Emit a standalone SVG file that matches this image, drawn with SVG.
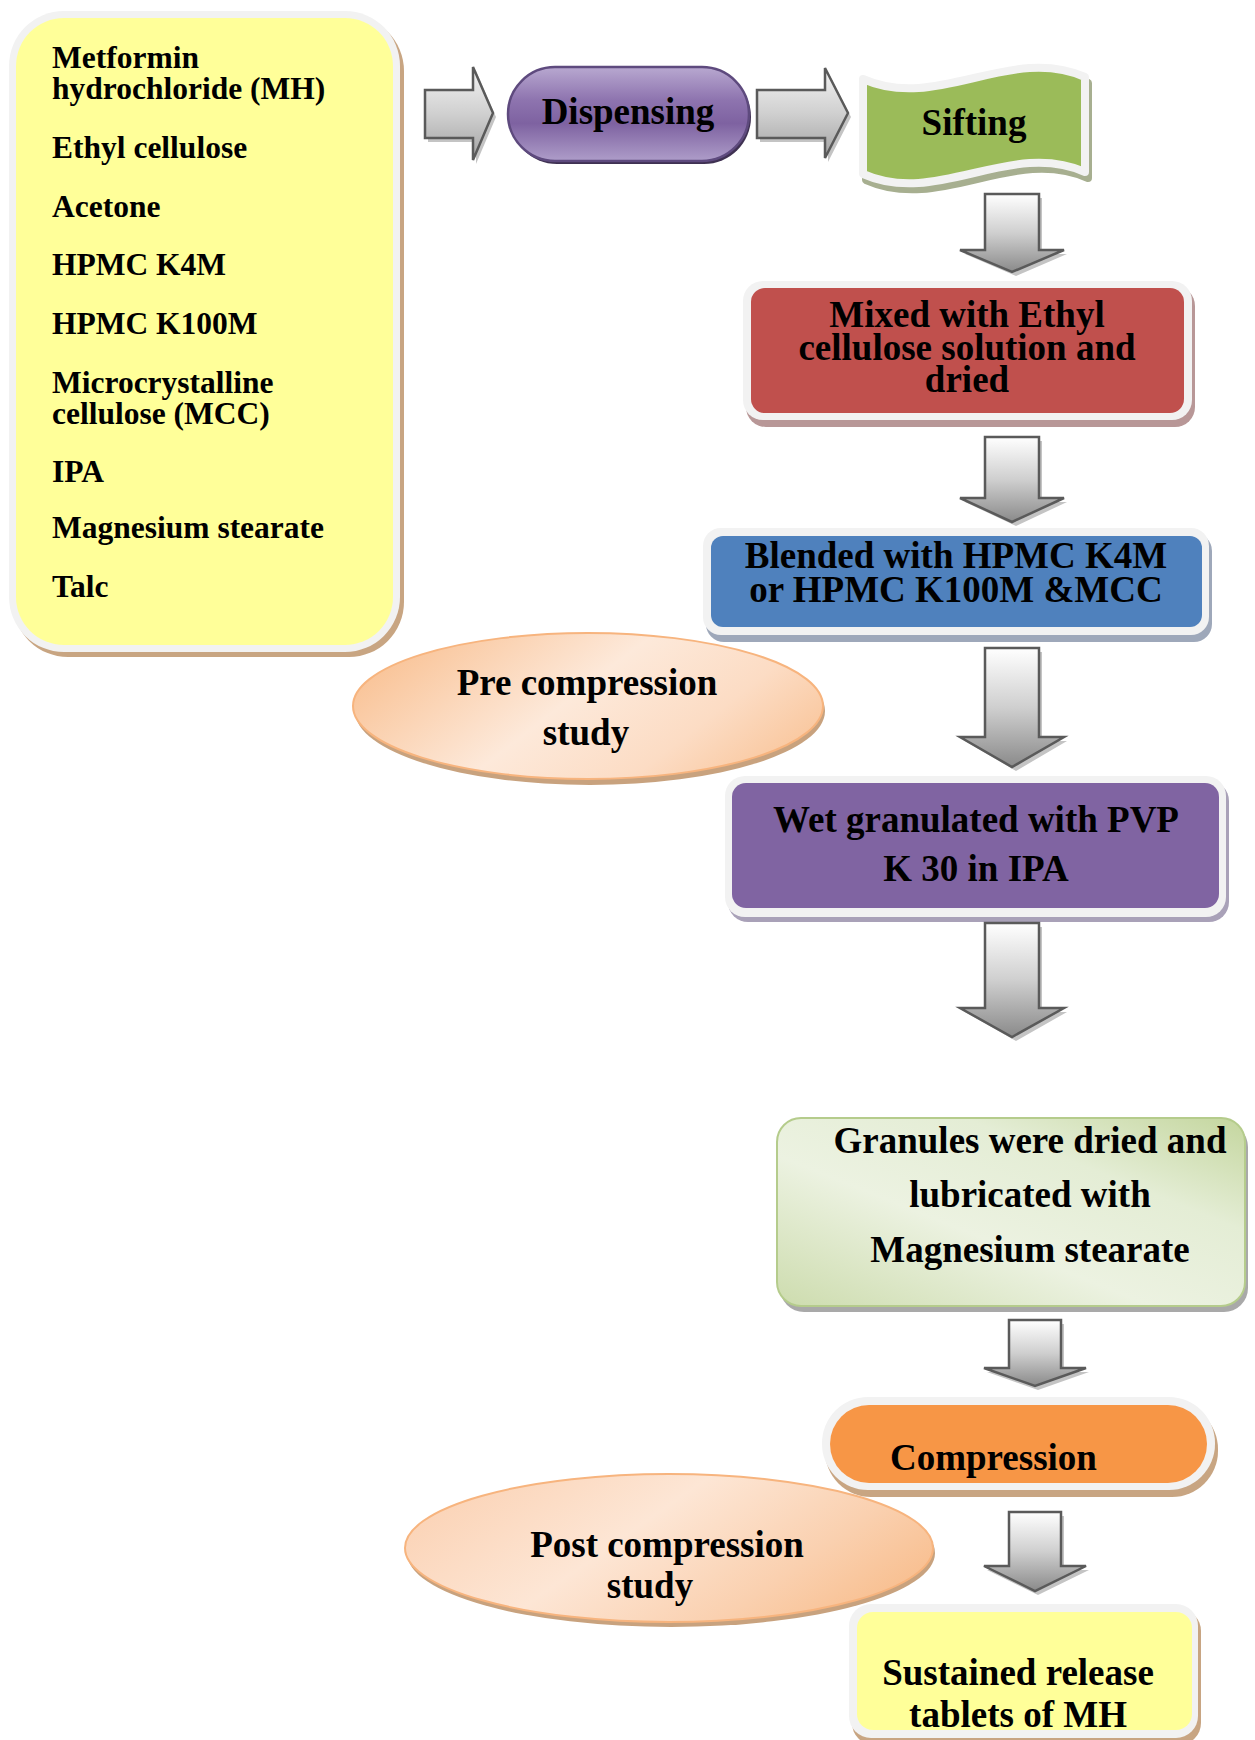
<svg xmlns="http://www.w3.org/2000/svg" width="1255" height="1740" viewBox="0 0 1255 1740">
<defs>
<linearGradient id="gArrowV" x1="0" y1="0" x2="0" y2="1">
<stop offset="0" stop-color="#FFFFFF"/><stop offset="0.5" stop-color="#CFCFCF"/><stop offset="1" stop-color="#8A8A8A"/>
</linearGradient>
<linearGradient id="gArrowH" x1="0" y1="0" x2="0" y2="1">
<stop offset="0" stop-color="#F4F4F4"/><stop offset="0.5" stop-color="#D0D0D0"/><stop offset="1" stop-color="#A2A2A2"/>
</linearGradient>
<linearGradient id="gPill" x1="0" y1="0" x2="0" y2="1">
<stop offset="0" stop-color="#B8A8D0"/><stop offset="0.35" stop-color="#8E74AF"/><stop offset="0.6" stop-color="#7E62A1"/><stop offset="1" stop-color="#AE9DC9"/>
</linearGradient>
<linearGradient id="gPeach" x1="0" y1="0.3" x2="1" y2="0.7">
<stop offset="0" stop-color="#F9C295"/><stop offset="0.45" stop-color="#FDE9DA"/><stop offset="0.75" stop-color="#FCDCC4"/><stop offset="1" stop-color="#F9C69C"/>
</linearGradient>
<linearGradient id="gPeach2" x1="0" y1="0.3" x2="1" y2="0.7">
<stop offset="0" stop-color="#FBD3B6"/><stop offset="0.4" stop-color="#FDE6D5"/><stop offset="0.75" stop-color="#FAD0AF"/><stop offset="1" stop-color="#F8BE8E"/>
</linearGradient>
<linearGradient id="gGreen" x1="0" y1="1" x2="1" y2="0">
<stop offset="0" stop-color="#CDDCAE"/><stop offset="0.4" stop-color="#ECF2E1"/><stop offset="0.7" stop-color="#E4EDD5"/><stop offset="1" stop-color="#C4D69E"/>
</linearGradient>
<style>
.t{font-family:"Liberation Serif","Times New Roman",serif;font-weight:bold;fill:#000;}
.f37{font-size:37px;}
.f31{font-size:31.5px;}
.mid{text-anchor:middle;}
.rim{fill:#F2F2F2;}
.shBrown{fill:#C8A582;}
.arrow{fill:url(#gArrowV);stroke:#5A5A5A;stroke-width:2.5;stroke-linejoin:miter;}
.arrowH{fill:url(#gArrowH);stroke:#5A5A5A;stroke-width:2.5;}
.ash{fill:#C4C4C4;}
</style>
</defs>
<rect width="1255" height="1740" fill="#FFFFFF"/>

<g id="materials">
<rect class="shBrown" x="13" y="16" width="391" height="641" rx="55"/>
<rect class="rim" x="9" y="11" width="391" height="641" rx="55"/>
<rect x="16" y="18" width="377" height="627" rx="48" fill="#FFFF99"/>
<text class="t f31" x="52" y="67.5">Metformin</text>
<text class="t f31" x="52" y="99">hydrochloride (MH)</text>
<text class="t f31" x="52" y="158">Ethyl cellulose</text>
<text class="t f31" x="52" y="217">Acetone</text>
<text class="t f31" x="52" y="275">HPMC K4M</text>
<text class="t f31" x="52" y="334">HPMC K100M</text>
<text class="t f31" x="52" y="393">Microcrystalline</text>
<text class="t f31" x="52" y="424">cellulose (MCC)</text>
<text class="t f31" x="52" y="482">IPA</text>
<text class="t f31" x="52" y="537.5">Magnesium stearate</text>
<text class="t f31" x="52" y="596.5">Talc</text>
</g>

<g id="dispensing">
<rect x="510" y="70" width="241" height="94" rx="47" fill="#3F3152"/>
<rect x="508" y="67" width="241" height="94" rx="47" fill="url(#gPill)" stroke="#5E4A7E" stroke-width="2.5"/>
<text class="t f37 mid" x="628" y="124">Dispensing</text>
</g>

<g id="sifting">
<path d="M863,79 C937,112 1011,44 1085,77 L1085,172 C1011,139 937,207 863,174 Z" transform="translate(3,6)" fill="#A7AF90" stroke="#A7AF90" stroke-width="8" stroke-linejoin="round"/>
<path d="M863,79 C937,112 1011,44 1085,77 L1085,172 C1011,139 937,207 863,174 Z" fill="#9BBB59" stroke="#F2F2F2" stroke-width="8" stroke-linejoin="round"/>
<text class="t f37 mid" x="974" y="135">Sifting</text>
</g>

<g id="mixed">
<rect x="746" y="286" width="449" height="141" rx="20" fill="#B89797"/>
<rect class="rim" x="743" y="281" width="449" height="139" rx="20"/>
<rect x="751" y="288" width="433" height="125" rx="14" fill="#C0504D"/>
<text class="t f37 mid" x="967" y="327">Mixed with Ethyl</text>
<text class="t f37 mid" x="967" y="360">cellulose solution and</text>
<text class="t f37 mid" x="967" y="392">dried</text>
</g>

<g id="blended">
<rect x="706" y="533" width="506" height="109" rx="18" fill="#9EA8BA"/>
<rect class="rim" x="703" y="528" width="506" height="107" rx="18"/>
<rect x="711" y="536" width="491" height="91" rx="12" fill="#4F81BD"/>
<text class="t f37 mid" x="956" y="568">Blended with HPMC K4M</text>
<text class="t f37 mid" x="956" y="602">or HPMC K100M &amp;MCC</text>
</g>

<g id="precompression">
<ellipse cx="590" cy="711" rx="235" ry="74" fill="#C8A27E"/>
<ellipse cx="588" cy="706" rx="235" ry="73" fill="url(#gPeach)" stroke="#F7B47E" stroke-width="2"/>
<text class="t f37 mid" x="587" y="695">Pre compression</text>
<text class="t f37 mid" x="586" y="745">study</text>
</g>

<g id="wetgranulation">
<rect x="728" y="781" width="501" height="141" rx="20" fill="#A9A1B8"/>
<rect class="rim" x="725" y="776" width="501" height="141" rx="20"/>
<rect x="732" y="783" width="487" height="125" rx="14" fill="#8064A2"/>
<text class="t f37 mid" x="976" y="832">Wet granulated with PVP</text>
<text class="t f37 mid" x="976" y="881">K 30 in IPA</text>
</g>

<g id="granules">
<rect x="780" y="1123" width="468" height="189" rx="24" fill="#A9A9A9"/>
<rect x="777" y="1118" width="468" height="188" rx="24" fill="url(#gGreen)" stroke="#B5CC8C" stroke-width="2"/>
<text class="t f37 mid" x="1030" y="1153">Granules were dried and</text>
<text class="t f37 mid" x="1030" y="1207">lubricated with</text>
<text class="t f37 mid" x="1030" y="1262">Magnesium stearate</text>
</g>

<g id="compression">
<rect class="shBrown" x="825" y="1403" width="393" height="94" rx="46"/>
<rect class="rim" x="822" y="1397" width="393" height="93" rx="46"/>
<rect x="830" y="1405" width="377" height="78" rx="39" fill="#F79646"/>
<text class="t f37" x="890" y="1470">Compression</text>
</g>

<g id="postcompression">
<ellipse cx="671" cy="1553" rx="264" ry="74" fill="#C8A27E"/>
<ellipse cx="669" cy="1548" rx="264" ry="74" fill="url(#gPeach2)" stroke="#F7B47E" stroke-width="2"/>
<text class="t f37 mid" x="667" y="1557">Post compression</text>
<text class="t f37 mid" x="650" y="1598">study</text>
</g>

<g id="sustained">
<rect class="shBrown" x="852" y="1609" width="349" height="136" rx="22"/>
<rect class="rim" x="849" y="1604" width="349" height="134" rx="22"/>
<rect x="857" y="1612" width="335" height="118" rx="16" fill="#FFFF99"/>
<text class="t f37 mid" x="1018" y="1685">Sustained release</text>
<text class="t f37 mid" x="1018" y="1727">tablets of MH</text>
</g>

<g id="connectors">
<path class="ash" d="M428,94 H476 V71 L496,117 L476,164 V142 H428 Z"/>
<path class="arrowH" d="M425,90 H473 V67 L493,113 L473,160 V138 H425 Z"/>
<path class="ash" d="M760,94 H828 V72 L851,117 L828,162 V142 H760 Z"/>
<path class="arrowH" d="M757,90 H825 V68 L848,113 L825,158 V138 H757 Z"/>

<path class="ash" d="M988,198 H1042 V254 H1067 L1016,276 L965,254 H988 Z"/>
<path class="arrow" d="M985,194 H1039 V250 H1064 L1012,272 L960,250 H985 Z"/>

<path class="ash" d="M988,441 H1042 V502 H1067 L1016,526 L965,502 H988 Z"/>
<path class="arrow" d="M985,437 H1039 V498 H1064 L1012,522 L960,498 H985 Z"/>

<path class="ash" d="M988,652 H1042 V741 H1067 L1016,771 L965,741 H988 Z"/>
<path class="arrow" d="M985,648 H1039 V737 H1064 L1012,767 L960,737 H985 Z"/>

<path class="ash" d="M988,927 H1042 V1012 H1067 L1016,1041 L965,1012 H988 Z"/>
<path class="arrow" d="M985,923 H1039 V1008 H1064 L1012,1037 L960,1008 H985 Z"/>

<path class="ash" d="M1012,1324 H1064 V1372 H1089 L1038,1390 L987,1372 H1012 Z"/>
<path class="arrow" d="M1009,1320 H1061 V1368 H1086 L1035,1386 L984,1368 H1009 Z"/>

<path class="ash" d="M1012,1516 H1064 V1570 H1089 L1038,1595 L987,1570 H1012 Z"/>
<path class="arrow" d="M1009,1512 H1061 V1566 H1086 L1035,1591 L984,1566 H1009 Z"/>
</g>
</svg>
